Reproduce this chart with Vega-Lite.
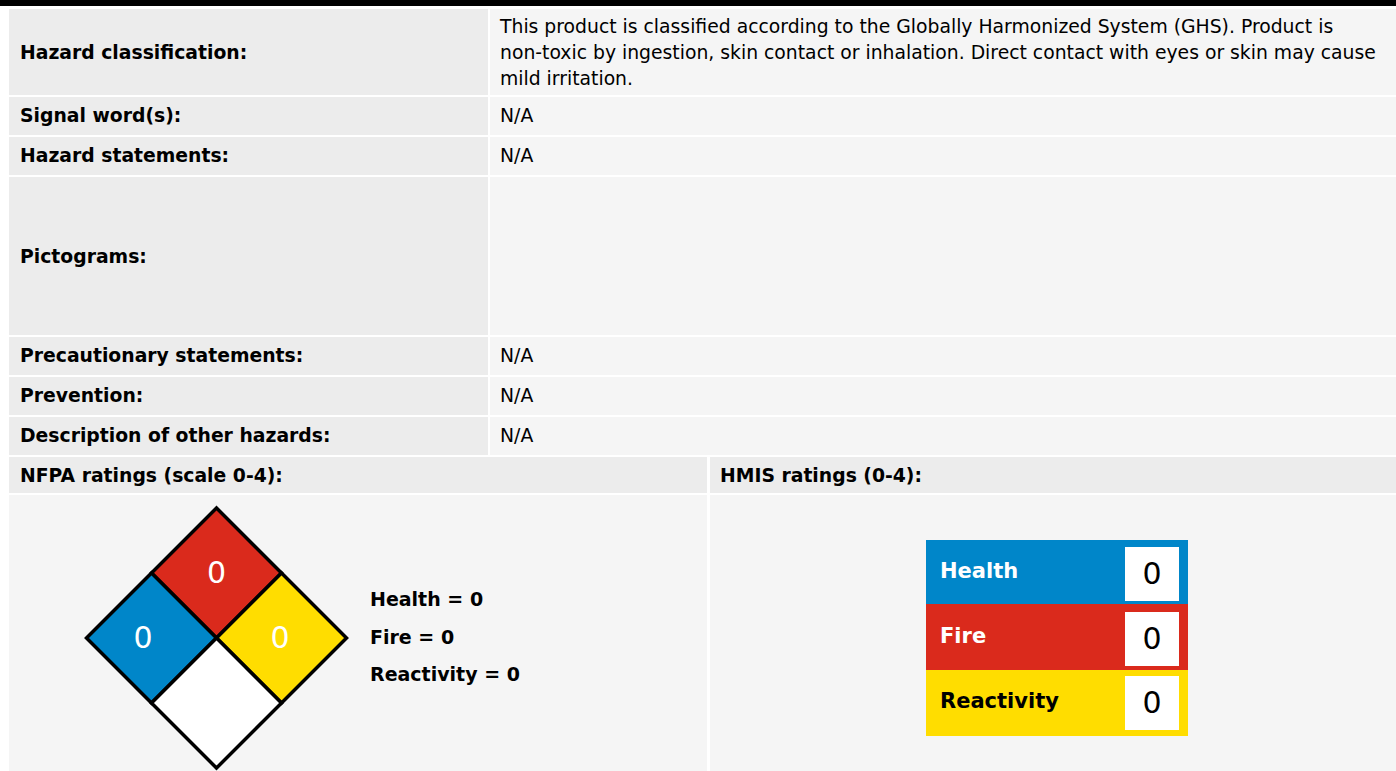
{
  "$schema": "https://vega.github.io/schema/vega-lite/v6.json",
  "width": 1396,
  "height": 771,
  "padding": 0,
  "autosize": {"type": "none"},
  "background": "#ffffff",
  "config": {"view": {"stroke": null}, "text": {"font": "DejaVu Sans"}},
  "datasets": {
    "cells": [
      {"part": "band", "x0": 0, "x1": 1396, "y0": 0, "y1": 6},
      {"part": "label", "x0": 9, "x1": 488, "y0": 9, "y1": 95},
      {"part": "value", "x0": 490, "x1": 1396, "y0": 9, "y1": 95},
      {"part": "label", "x0": 9, "x1": 488, "y0": 97, "y1": 135},
      {"part": "value", "x0": 490, "x1": 1396, "y0": 97, "y1": 135},
      {"part": "label", "x0": 9, "x1": 488, "y0": 137, "y1": 175},
      {"part": "value", "x0": 490, "x1": 1396, "y0": 137, "y1": 175},
      {"part": "label", "x0": 9, "x1": 488, "y0": 177, "y1": 335},
      {"part": "value", "x0": 490, "x1": 1396, "y0": 177, "y1": 335},
      {"part": "label", "x0": 9, "x1": 488, "y0": 337, "y1": 375},
      {"part": "value", "x0": 490, "x1": 1396, "y0": 337, "y1": 375},
      {"part": "label", "x0": 9, "x1": 488, "y0": 377, "y1": 415},
      {"part": "value", "x0": 490, "x1": 1396, "y0": 377, "y1": 415},
      {"part": "label", "x0": 9, "x1": 488, "y0": 417, "y1": 455},
      {"part": "value", "x0": 490, "x1": 1396, "y0": 417, "y1": 455},
      {"part": "label", "x0": 9, "x1": 707, "y0": 457, "y1": 493},
      {"part": "label", "x0": 710, "x1": 1396, "y0": 457, "y1": 493},
      {"part": "value", "x0": 9, "x1": 707, "y0": 495, "y1": 771},
      {"part": "value", "x0": 710, "x1": 1396, "y0": 495, "y1": 771}
    ],
    "labels": [
      {"text": "Hazard classification:", "x": 20, "y": 53},
      {"text": "Signal word(s):", "x": 20, "y": 116},
      {"text": "Hazard statements:", "x": 20, "y": 156},
      {"text": "Pictograms:", "x": 20, "y": 257},
      {"text": "Precautionary statements:", "x": 20, "y": 356},
      {"text": "Prevention:", "x": 20, "y": 396},
      {"text": "Description of other hazards:", "x": 20, "y": 436},
      {"text": "NFPA ratings (scale 0-4):", "x": 20, "y": 476},
      {"text": "HMIS ratings (0-4):", "x": 720, "y": 476}
    ],
    "values": [
      {"text": "This product is classified according to the Globally Harmonized System (GHS). Product is\nnon-toxic by ingestion, skin contact or inhalation. Direct contact with eyes or skin may cause\nmild irritation.", "x": 500, "y": 27},
      {"text": "N/A", "x": 500, "y": 116},
      {"text": "N/A", "x": 500, "y": 156},
      {"text": "N/A", "x": 500, "y": 356},
      {"text": "N/A", "x": 500, "y": 396},
      {"text": "N/A", "x": 500, "y": 436}
    ],
    "nfpa": [
      {"hazard": "Fire", "rating": "0", "cx": 216.5, "cy": 573, "tx": 216.5, "ty": 574},
      {"hazard": "Health", "rating": "0", "cx": 151.5, "cy": 638, "tx": 143, "ty": 639},
      {"hazard": "Reactivity", "rating": "0", "cx": 281.5, "cy": 638, "tx": 280, "ty": 639},
      {"hazard": "Special", "rating": "", "cx": 216.5, "cy": 703, "tx": 216.5, "ty": 704}
    ],
    "nfpaKey": [
      {"text": "Health = 0", "x": 370, "y": 600},
      {"text": "Fire = 0", "x": 370, "y": 638},
      {"text": "Reactivity = 0", "x": 370, "y": 675}
    ],
    "hmis": [
      {"category": "Health", "rating": "0", "x0": 926, "x1": 1188, "y0": 540, "y1": 604, "bx0": 1125, "bx1": 1179, "by0": 547, "by1": 601, "lx": 940, "ly": 572, "nx": 1152, "ny": 575},
      {"category": "Fire", "rating": "0", "x0": 926, "x1": 1188, "y0": 604, "y1": 670, "bx0": 1125, "bx1": 1179, "by0": 612, "by1": 666, "lx": 940, "ly": 637, "nx": 1152, "ny": 640},
      {"category": "Reactivity", "rating": "0", "x0": 926, "x1": 1188, "y0": 670, "y1": 736, "bx0": 1125, "bx1": 1179, "by0": 676, "by1": 730, "lx": 940, "ly": 702, "nx": 1152, "ny": 704}
    ]
  },
  "layer": [
    {
      "data": {"name": "cells"},
      "mark": {"type": "rect"},
      "encoding": {
        "x": {"field": "x0", "type": "quantitative", "scale": {"domain": [0, 1396], "nice": false, "zero": false}, "axis": null},
        "x2": {"field": "x1"},
        "y": {"field": "y0", "type": "quantitative", "scale": {"domain": [0, 771], "nice": false, "zero": false, "reverse": true}, "axis": null},
        "y2": {"field": "y1"},
        "fill": {"field": "part", "type": "nominal", "legend": null,
          "scale": {"domain": ["band", "label", "value", "Health", "Fire", "Reactivity", "Special"],
                    "range": ["#000000", "#ececec", "#f5f5f5", "#0086c9", "#da2a1c", "#ffdd00", "#ffffff"]}}
      }
    },
    {
      "data": {"name": "labels"},
      "mark": {"type": "text", "align": "left", "baseline": "middle", "fontWeight": "bold", "fontSize": 18.8, "color": "#000000"},
      "encoding": {
        "x": {"field": "x", "type": "quantitative", "scale": {"domain": [0, 1396], "nice": false, "zero": false}, "axis": null},
        "y": {"field": "y", "type": "quantitative", "scale": {"domain": [0, 771], "nice": false, "zero": false, "reverse": true}, "axis": null},
        "text": {"field": "text"}
      }
    },
    {
      "data": {"name": "values"},
      "mark": {"type": "text", "align": "left", "baseline": "middle", "fontSize": 18.8, "lineBreak": "\n", "lineHeight": 26, "color": "#000000"},
      "encoding": {
        "x": {"field": "x", "type": "quantitative", "scale": {"domain": [0, 1396], "nice": false, "zero": false}, "axis": null},
        "y": {"field": "y", "type": "quantitative", "scale": {"domain": [0, 771], "nice": false, "zero": false, "reverse": true}, "axis": null},
        "text": {"field": "text"}
      }
    },
    {
      "data": {"name": "nfpa"},
      "mark": {"type": "point", "shape": "diamond", "size": 16900, "filled": true, "opacity": 1, "stroke": "#000000", "strokeWidth": 3.5, "strokeJoin": "miter"},
      "encoding": {
        "x": {"field": "cx", "type": "quantitative", "scale": {"domain": [0, 1396], "nice": false, "zero": false}, "axis": null},
        "y": {"field": "cy", "type": "quantitative", "scale": {"domain": [0, 771], "nice": false, "zero": false, "reverse": true}, "axis": null},
        "fill": {"field": "hazard", "type": "nominal", "legend": null}
      }
    },
    {
      "data": {"name": "nfpa"},
      "mark": {"type": "text", "align": "center", "baseline": "middle", "fontSize": 30, "color": "#ffffff"},
      "encoding": {
        "x": {"field": "tx", "type": "quantitative", "scale": {"domain": [0, 1396], "nice": false, "zero": false}, "axis": null},
        "y": {"field": "ty", "type": "quantitative", "scale": {"domain": [0, 771], "nice": false, "zero": false, "reverse": true}, "axis": null},
        "text": {"field": "rating"}
      }
    },
    {
      "data": {"name": "nfpaKey"},
      "mark": {"type": "text", "align": "left", "baseline": "middle", "fontWeight": "bold", "fontSize": 19, "color": "#000000"},
      "encoding": {
        "x": {"field": "x", "type": "quantitative", "scale": {"domain": [0, 1396], "nice": false, "zero": false}, "axis": null},
        "y": {"field": "y", "type": "quantitative", "scale": {"domain": [0, 771], "nice": false, "zero": false, "reverse": true}, "axis": null},
        "text": {"field": "text"}
      }
    },
    {
      "data": {"name": "hmis"},
      "mark": {"type": "rect"},
      "encoding": {
        "x": {"field": "x0", "type": "quantitative", "scale": {"domain": [0, 1396], "nice": false, "zero": false}, "axis": null},
        "x2": {"field": "x1"},
        "y": {"field": "y0", "type": "quantitative", "scale": {"domain": [0, 771], "nice": false, "zero": false, "reverse": true}, "axis": null},
        "y2": {"field": "y1"},
        "fill": {"field": "category", "type": "nominal", "legend": null}
      }
    },
    {
      "data": {"name": "hmis"},
      "mark": {"type": "rect", "fill": "#ffffff"},
      "encoding": {
        "x": {"field": "bx0", "type": "quantitative", "scale": {"domain": [0, 1396], "nice": false, "zero": false}, "axis": null},
        "x2": {"field": "bx1"},
        "y": {"field": "by0", "type": "quantitative", "scale": {"domain": [0, 771], "nice": false, "zero": false, "reverse": true}, "axis": null},
        "y2": {"field": "by1"}
      }
    },
    {
      "data": {"name": "hmis"},
      "mark": {"type": "text", "align": "left", "baseline": "middle", "fontWeight": "bold", "fontSize": 21},
      "encoding": {
        "x": {"field": "lx", "type": "quantitative", "scale": {"domain": [0, 1396], "nice": false, "zero": false}, "axis": null},
        "y": {"field": "ly", "type": "quantitative", "scale": {"domain": [0, 771], "nice": false, "zero": false, "reverse": true}, "axis": null},
        "text": {"field": "category"},
        "color": {"field": "category", "type": "nominal", "legend": null,
          "scale": {"domain": ["Health", "Fire", "Reactivity"], "range": ["#ffffff", "#ffffff", "#000000"]}}
      }
    },
    {
      "data": {"name": "hmis"},
      "mark": {"type": "text", "align": "center", "baseline": "middle", "fontSize": 30, "color": "#000000"},
      "encoding": {
        "x": {"field": "nx", "type": "quantitative", "scale": {"domain": [0, 1396], "nice": false, "zero": false}, "axis": null},
        "y": {"field": "ny", "type": "quantitative", "scale": {"domain": [0, 771], "nice": false, "zero": false, "reverse": true}, "axis": null},
        "text": {"field": "rating"}
      }
    }
  ]
}
